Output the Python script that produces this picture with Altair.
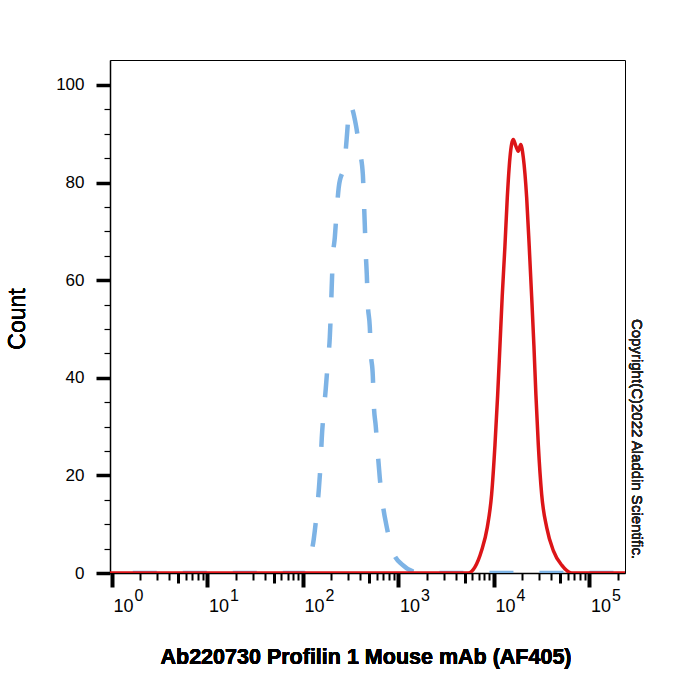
import altair as alt
import pandas as pd

# Isotype control histogram (dashed blue): fluorescence intensity vs. count
blue_x = [0.5, 107, 116, 131, 141, 148, 155, 159, 167, 175, 184, 193, 198, 202, 207,
          218, 228, 239, 277, 290, 313, 361, 398, 428, 439, 449, 459, 471, 482, 506,
          519, 545, 557, 585, 614, 644, 693, 764, 883, 1122, 1514, 2000, 500000]
blue_y = [0, 0, 2.2, 6.9, 12.4, 17.0, 22.9, 27.6, 33.1, 37.7, 43.2, 48.3, 53.5, 58.4, 64.1,
          68.8, 74.2, 78.9, 84.4, 89.0, 95.9, 91.9, 86.4, 81.7, 76.3, 71.2, 65.7, 61.1, 55.4, 50.5,
          45.2, 40.2, 34.7, 30.0, 24.5, 19.5, 14.0, 9.3, 4.3, 1.6, 0.2, 0, 0]

# Stained sample histogram (solid red)
red_x = [0.5, 4667, 5433, 6383, 7499, 8590, 9550, 10351, 11041, 11668, 12331, 13152, 13932,
         14859, 16106, 17179, 18155, 19231, 20512, 22233, 23659, 25061, 26485, 27797, 29444,
         31916, 36058, 42267, 51761, 65917, 500000]
red_y = [0, 0, 0, 1.2, 4.6, 9.3, 16.1, 26.2, 36.4, 46.5, 56.7, 66.8, 76.9,
         85.1, 88.8, 87.4, 86.4, 87.8, 85.1, 76.9, 66.8, 56.7, 46.5, 36.4, 26.2,
         16.1, 9.3, 4.6, 1.6, 0, 0]

# Axis ticks and labels
decades = [1, 10, 100, 1000, 10000, 100000]
exponents = ["0", "1", "2", "3", "4", "5"]
mid_ticks = [5 * d for d in decades[:-1]]
minor_ticks = [m * d for d in decades for m in (2, 3, 4, 6, 7, 8, 9) if m * d < 238000]
y_major = [0, 20, 40, 60, 80, 100]
y_minor = [v for v in range(5, 100, 5) if v % 20 != 0]

W, H = 515, 513
FONT = "Liberation Sans"

xscale = alt.Scale(type="log", domain=[0.964, 238000])
yscale = alt.Scale(domain=[0, 105.1])

x_major_axis = alt.Axis(orient="bottom", values=decades, labels=False, title=None, grid=False,
                        tickSize=14, tickWidth=4, tickColor="black",
                        domain=True, domainColor="black", domainWidth=1.5)
x_minor_axis = alt.Axis(orient="bottom", values=minor_ticks, labels=False, title=None, grid=False,
                        tickSize=7, tickWidth=2, tickColor="black", domain=False)
x_mid_axis = alt.Axis(orient="bottom", values=mid_ticks, labels=False, title=None, grid=False,
                      tickSize=10, tickWidth=3, tickColor="black", domain=False)
y_major_axis = alt.Axis(orient="left", values=y_major, title=None, grid=False,
                        tickSize=14, tickWidth=3.5, tickColor="black",
                        labelFont=FONT, labelFontSize=17, labelColor="black", labelPadding=12,
                        domain=True, domainColor="black", domainWidth=1.5)
y_minor_axis = alt.Axis(orient="left", values=y_minor, labels=False, title=None, grid=False,
                        tickSize=6, tickWidth=1.2, tickColor="black", domain=False)

df_blue = pd.DataFrame({"x": blue_x, "y": blue_y})
df_red = pd.DataFrame({"x": red_x, "y": red_y})
df_lab = pd.DataFrame({"v": decades, "e": exponents})

blue = alt.Chart(df_blue).mark_line(
    color="#7db3e5", strokeWidth=4.5, strokeDash=[24, 26], interpolate="monotone", clip=True
).encode(
    x=alt.X("x:Q", scale=xscale, axis=x_major_axis),
    y=alt.Y("y:Q", scale=yscale, axis=y_major_axis),
)

red = alt.Chart(df_red).mark_line(
    color="#dc1518", strokeWidth=3.5, interpolate="monotone", clip=True
).encode(
    x=alt.X("x:Q", scale=xscale, axis=x_minor_axis),
    y=alt.Y("y:Q", scale=yscale, axis=y_minor_axis),
)

base_lab = alt.Chart(df_lab).mark_text(
    align="left", baseline="middle", dx=2, font=FONT, fontSize=18, color="black"
).encode(
    x=alt.X("v:Q", scale=xscale, axis=x_mid_axis),
    y=alt.value(H + 34),
    text=alt.value("10"),
)

exp_lab = alt.Chart(df_lab).mark_text(
    align="left", baseline="middle", dx=23, font=FONT, fontSize=16, color="black"
).encode(
    x=alt.X("v:Q", scale=xscale, axis=None),
    y=alt.value(H + 23),
    text="e:N",
)

y_title = alt.Chart(df_lab).mark_text(
    angle=270, align="center", baseline="middle", font=FONT, fontSize=23, color="black"
).encode(x=alt.value(-92), y=alt.value(259), text=alt.value("Count"))

x_title = alt.Chart(df_lab).mark_text(
    align="center", baseline="middle", font=FONT, fontSize=21.5, fontWeight="bold", color="black"
).encode(x=alt.value(256), y=alt.value(598),
         text=alt.value("Ab220730 Profilin 1 Mouse mAb (AF405)"))

copyright_txt = alt.Chart(df_lab).mark_text(
    angle=90, align="center", baseline="middle", font=FONT, fontSize=15, color="#222222"
).encode(x=alt.value(527), y=alt.value(379),
         text=alt.value("Copyright(C)2022 Aladdin Scientific."))

chart = alt.layer(
    blue, red, base_lab, exp_lab, y_title, x_title, copyright_txt
).resolve_axis(
    x="independent", y="independent"
).properties(
    width=W, height=H,
    autosize=alt.AutoSizeParams(type="none"),
    padding={"left": 110, "top": 60, "right": 75, "bottom": 127},
    background="white",
).configure_view(stroke="black", strokeWidth=1)

chart.save("out.html", embed_options={"renderer": "svg", "actions": False})
